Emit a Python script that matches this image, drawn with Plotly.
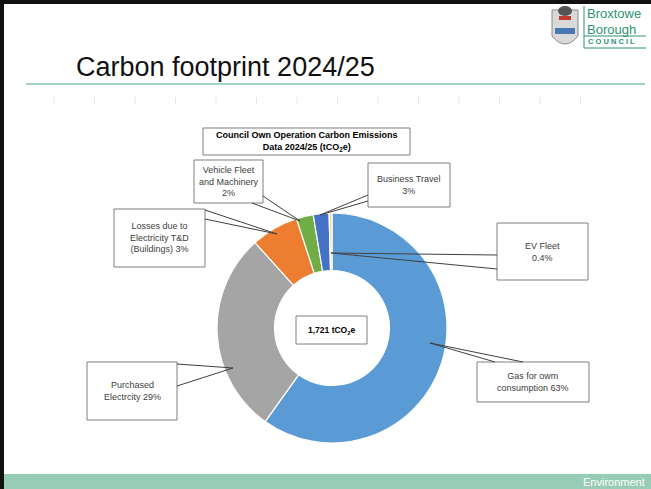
import plotly.graph_objects as go

W, H = 651, 489

# ---- data ----
categories = ["Gas for owm consumption", "Purchased Electrcity", "Losses due to Electricity T&D (Buildings)",
              "Vehicle Fleet and Machinery", "Business Travel", "EV Fleet"]
values_t = [1031, 490, 115, 41, 38, 7]          # tCO2e
label_texts = ["Gas for owm<br>consumption 63%", "Purchased<br>Electrcity 29%",
               "Losses due to<br>Electricity T&D<br>(Buildings) 3%", "Vehicle Fleet<br>and Machinery<br>2%",
               "Business Travel<br>3%", "EV Fleet<br>0.4%"]
colors = ["#5B9BD5", "#A5A5A5", "#ED7D31", "#70AD47", "#4472C4", "#FFD98A"]
total_text = "1,721 tCO<sub>2</sub>e"
chart_title = "Council Own Operation Carbon Emissions<br>Data 2024/25 (tCO<sub>2</sub>e)"
slide_title = "Carbon footprint 2024/25"
footer_text = "Environment"
logo_lines = ["Broxtowe", "Borough", "C O U N C I L"]

def px(x):
    return x / W

def py(y):
    return 1 - y / H

# donut placement (pixels)
cx, cy, R = 332, 328, 115

fig = go.Figure()
fig.add_trace(go.Pie(
    labels=categories, values=values_t, hole=0.5, sort=False, direction="clockwise",
    rotation=0, textinfo="none", hoverinfo="label+value+percent",
    marker=dict(colors=colors, line=dict(color="white", width=1.2)),
    domain=dict(x=[px(cx - R), px(cx + R)], y=[py(cy + R), py(cy - R)]),
    showlegend=False,
))

shapes = []
annotations = []

def box(x0, y0, x1, y1, color="#7F7F7F"):
    shapes.append(dict(type="rect", xref="paper", yref="paper", x0=px(x0), x1=px(x1), y0=py(y1), y1=py(y0),
                       line=dict(color=color, width=1), fillcolor="white", layer="above"))

def wedge(b1, tip, b2):
    path = "M {} {} L {} {} L {} {}".format(px(b1[0]), py(b1[1]), px(tip[0]), py(tip[1]), px(b2[0]), py(b2[1]))
    shapes.append(dict(type="path", xref="paper", yref="paper", path=path,
                       line=dict(color="#404040", width=1), layer="above"))

def text(x, y, t, size=9, color="#404040", bold=False, xanchor="center", family="Arial, Liberation Sans"):
    annotations.append(dict(x=px(x), y=py(y), xref="paper", yref="paper", text=("<b>%s</b>" % t) if bold else t,
                            showarrow=False, xanchor=xanchor, yanchor="middle",
                            font=dict(family=family, size=size, color=color)))

# label boxes: (x0, y0, x1, y1), wedge base 1, wedge tip, wedge base 2
label_boxes = [
    ((477, 362, 589, 402), (495, 362), (430, 343), (523, 362)),
    ((87, 362, 177, 420), (177, 364), (233, 368), (177, 386)),
    ((114, 209, 205, 267), (205, 210), (277, 234), (205, 219)),
    ((194, 160, 263, 203), (252, 203), (300, 221), (263, 196)),
    ((368, 163, 450, 207), (368, 195), (320, 215), (368, 201)),
    ((497, 223, 588, 280), (497, 255), (331, 253), (497, 269)),
]
for (b, w1, tip, w2), t in zip(label_boxes, label_texts):
    box(*b)
    wedge(w1, tip, w2)
    text((b[0] + b[2]) / 2, (b[1] + b[3]) / 2, t, size=9)

# chart title box
box(203, 128, 410, 155)
text(306.5, 141.5, chart_title, size=9, color="#000000", bold=True)
# center box
box(296, 316, 367, 344)
text(331.5, 330, total_text, size=8.5, color="#000000", bold=True)

# ---- slide decoration ----
# black border top and left
shapes.append(dict(type="rect", xref="paper", yref="paper", x0=0, x1=1, y0=py(4), y1=1,
                   line=dict(width=0), fillcolor="#111111", layer="above"))
shapes.append(dict(type="rect", xref="paper", yref="paper", x0=0, x1=px(4), y0=0, y1=1,
                   line=dict(width=0), fillcolor="#111111", layer="above"))
# footer band
shapes.append(dict(type="rect", xref="paper", yref="paper", x0=px(4), x1=1, y0=0, y1=py(474),
                   line=dict(width=0), fillcolor="#97CDB6", layer="below"))
text(647, 482, footer_text, size=11, color="white", xanchor="right")
# title
annotations.append(dict(x=px(74), y=py(67), xref="paper", yref="paper", text=slide_title, showarrow=False,
                        xanchor="left", yanchor="middle",
                        font=dict(family="Arial, Liberation Sans", size=27, color="#111111")))
# title underline
shapes.append(dict(type="line", xref="paper", yref="paper", x0=px(26), x1=px(645), y0=py(84), y1=py(84),
                   line=dict(color="#3DAA8C", width=1.2)))
# faint ticks
for i in range(14):
    x = 54 + i * 40.5
    shapes.append(dict(type="line", xref="paper", yref="paper", x0=px(x), x1=px(x), y0=py(97), y1=py(104),
                       line=dict(color="#E6E6E6", width=1)))
# logo: crest approximation
crest = "M {a} {b} L {c} {b} L {c} {d} Q {m} {e} {a} {d} Z".format(
    a=px(552), c=px(578), b=py(10), d=py(36), m=px(565), e=py(52))
shapes.append(dict(type="path", xref="paper", yref="paper", path=crest,
                   line=dict(color="#8A8A8A", width=1), fillcolor="#D9D9D9"))
shapes.append(dict(type="rect", xref="paper", yref="paper", x0=px(555), x1=px(575), y0=py(34), y1=py(28),
                   line=dict(width=0), fillcolor="#4A78B5"))
shapes.append(dict(type="circle", xref="paper", yref="paper", x0=px(558), x1=px(572), y0=py(16), y1=py(6),
                   line=dict(width=0), fillcolor="#555555"))
shapes.append(dict(type="rect", xref="paper", yref="paper", x0=px(559), x1=px(571), y0=py(20), y1=py(16),
                   line=dict(width=0), fillcolor="#C0392B"))
teal = "#2E9271"
text(585, 13, logo_lines[0], size=13, color=teal, xanchor="left")
text(585, 29, logo_lines[1], size=13, color=teal, xanchor="left")
text(586, 42, logo_lines[2], size=7.5, color=teal, xanchor="left", bold=True)
for yy in (36, 48):
    shapes.append(dict(type="line", xref="paper", yref="paper", x0=px(584), x1=px(646), y0=py(yy), y1=py(yy),
                       line=dict(color=teal, width=1)))
shapes.append(dict(type="line", xref="paper", yref="paper", x0=px(584), x1=px(584), y0=py(6), y1=py(48),
                   line=dict(color=teal, width=1)))

fig.update_layout(width=W, height=H, margin=dict(l=0, r=0, t=0, b=0), paper_bgcolor="white",
                  plot_bgcolor="white", shapes=shapes, annotations=annotations)
fig.write_html("out.html", config={"displayModeBar": False},
               post_script="document.body.style.margin='0px';document.body.style.overflow='hidden';")
